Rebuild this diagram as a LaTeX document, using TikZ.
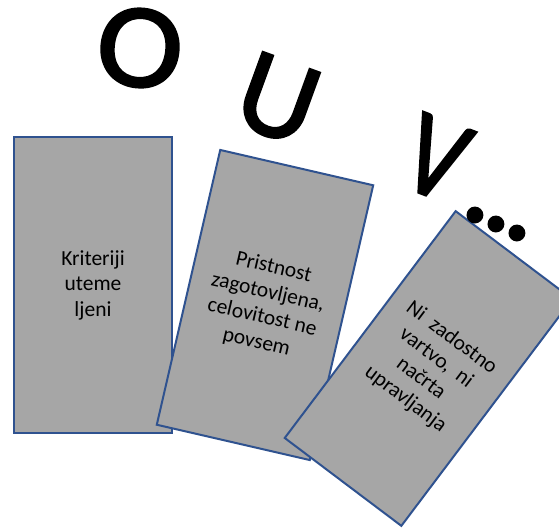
\documentclass[tikz,border=0pt]{standalone}
\usepackage{fontspec}
\setmainfont{Carlito}
\newfontfamily\bigfont{Carlito}[FakeBold=2]
\definecolor{cardgray}{HTML}{A6A6A6}
\definecolor{cardblue}{HTML}{2F528F}
\begin{document}
\begin{tikzpicture}[x=1pt,y=-1pt,
  card/.style={rectangle,draw=cardblue,fill=cardgray,line width=2pt,inner sep=0pt},
  cardtext/.style={align=center,text=black,inner sep=0pt,font=\fontsize{21.5}{25.5}\selectfont},
  bigletter/.style={inner sep=0pt,text=black,font=\bigfont\fontsize{120}{120}\selectfont}]
\useasboundingbox (0,0) rectangle (559,528);
\clip (0,0) rectangle (559,528);
% cards
\node[card,minimum width=158pt,minimum height=296pt] (c1) at (93,285) {};
\node[cardtext] (t1) at (c1.center) {Kriteriji\\uteme\\ljeni};
\node[card,minimum width=157pt,minimum height=282pt,rotate=-13] (c2) at (265,305) {};
\node[cardtext,rotate=-13] (t2) at (c2.center) {Pristnost\\zagotovljena,\\celovitost ne\\povsem};
\node[card,minimum width=146pt,minimum height=284pt,rotate=-37] (c3) at (428.5,368.5) {};
\node[cardtext,rotate=-37] (t3) at (c3.center) {Ni\ \ zadostno\\vartvo,\ \ ni\\načrta\\upravljanja};
% big letters
\node[bigletter,rotate=-6,xscale=1.08] (lo) at (140,48) {O};
\node[bigletter,rotate=-20] (lu) at (278,99) {U};
\node[bigletter,rotate=-21,xscale=0.85] (lv) at (436,158) {V};
\node[bigletter] (d1) at (475,215) {.};
\node[bigletter] (d2) at (496,224) {.};
\node[bigletter] (d3) at (517,233) {.};
\end{tikzpicture}
\end{document}
